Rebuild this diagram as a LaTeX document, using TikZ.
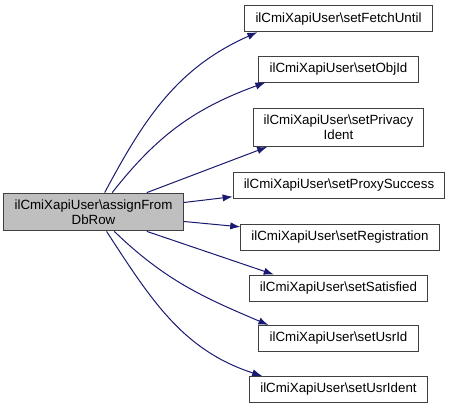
\documentclass[tikz,border=0pt]{standalone}
\usepackage{fontspec}
\setmainfont{Liberation Sans}
\usetikzlibrary{arrows.meta}
\definecolor{edgeblue}{HTML}{191970}
\definecolor{callerfill}{HTML}{BFBFBF}
\definecolor{boxline}{HTML}{404040}

\begin{document}
\begin{tikzpicture}[x=0.75pt,y=-0.75pt,>={Latex[length=7.5pt,width=5.5pt]},
  fn/.style={draw=boxline,line width=0.75pt,fill=white,align=center,inner xsep=8pt,inner ysep=5pt,minimum height=19.5pt,font=\fontsize{10}{11}\selectfont},
  call/.style={->,draw=edgeblue,line width=0.75pt}]
\useasboundingbox (0,0) rectangle (451,408);
% caller
\node[fn,fill=callerfill] (assign) at (93.5,212) {ilCmiXapiUser\textbackslash assignFrom\\DbRow};
% callees
\node[fn] (fetch) at (338.5,18.7) {ilCmiXapiUser\textbackslash setFetchUntil};
\node[fn] (objid) at (338.5,69) {ilCmiXapiUser\textbackslash setObjId};
\node[fn] (privacy) at (338.5,127.5) {ilCmiXapiUser\textbackslash setPrivacy\\Ident};
\node[fn] (proxy) at (339,185.5) {ilCmiXapiUser\textbackslash setProxySuccess};
\node[fn] (regist) at (340,237.3) {ilCmiXapiUser\textbackslash setRegistration};
\node[fn] (satisf) at (338.5,288) {ilCmiXapiUser\textbackslash setSatisfied};
\node[fn] (usrid) at (338.5,338.5) {ilCmiXapiUser\textbackslash setUsrId};
\node[fn] (usrident) at (338.5,389.5) {ilCmiXapiUser\textbackslash setUsrIdent};
% calls
\draw[call] (assign.60) to[out=62,in=204] ([xshift=9.75pt]fetch.south west);
\draw[call] (assign.46) to[out=52,in=200] ([xshift=5.25pt]objid.south west);
\draw[call] (assign.20) -- ([xshift=11pt]privacy.south west);
\draw[call] (assign.6) -- (proxy.186);
\draw[call] (assign.354) -- (regist.174);
\draw[call] (assign.340) -- ([xshift=18.75pt]satisf.north west);
\draw[call] (assign.317) to[out=-44,in=157] ([xshift=7.5pt]usrid.north west);
\draw[call] (assign.304) to[out=-57,in=162] ([xshift=9.75pt]usrident.north west);
\end{tikzpicture}
\end{document}
